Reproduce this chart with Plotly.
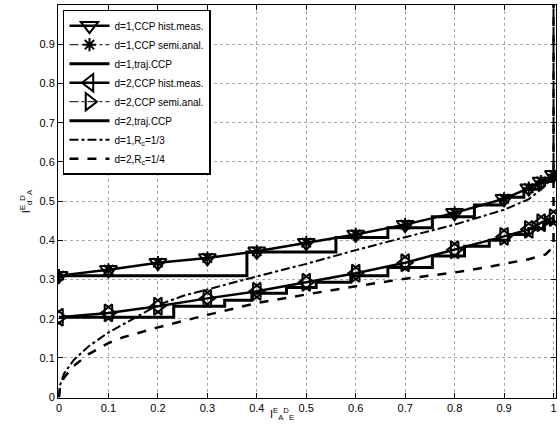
import plotly.graph_objects as go

# marker points of the measured / semi-analytic CCP curves
x_pts = [0, 0.1, 0.2, 0.3, 0.4, 0.5, 0.6, 0.7, 0.8, 0.9, 0.95, 0.975, 1.0]
d1_meas = [0.31, 0.325, 0.343, 0.355, 0.372, 0.394, 0.415, 0.44, 0.47, 0.506, 0.533, 0.55, 0.567]
d2_meas = [0.204, 0.215, 0.232, 0.252, 0.27, 0.293, 0.316, 0.343, 0.376, 0.41, 0.428, 0.445, 0.458]

# trajectory (staircase) curves
d1_traj_x = [0, 0.38, 0.56, 0.665, 0.755, 0.84, 0.9, 0.94, 0.97, 1.0]
d1_traj_y = [0.31, 0.37, 0.407, 0.432, 0.46, 0.49, 0.51, 0.53, 0.55, 0.565]
d2_traj_x = [0, 0.232, 0.335, 0.39, 0.46, 0.52, 0.59, 0.665, 0.755, 0.82, 0.87, 0.91, 0.95, 0.98, 1.0]
d2_traj_y = [0.204, 0.232, 0.247, 0.265, 0.28, 0.293, 0.31, 0.331, 0.36, 0.385, 0.40, 0.415, 0.43, 0.445, 0.455]

# fixed-rate curves
rc3_x = [0, 0.002, 0.01, 0.03, 0.06, 0.1, 0.15, 0.2, 0.25, 0.3, 0.4, 0.5, 0.6, 0.7, 0.8, 0.9, 0.95, 0.98, 0.995, 1.0, 1.0]
rc3_y = [0, 0.03, 0.06, 0.095, 0.13, 0.165, 0.2, 0.235, 0.258, 0.275, 0.308, 0.34, 0.375, 0.408, 0.44, 0.478, 0.505, 0.535, 0.555, 0.57, 1.0]
rc4_x = [0, 0.002, 0.01, 0.03, 0.06, 0.1, 0.13, 0.2, 0.3, 0.4, 0.5, 0.6, 0.7, 0.8, 0.863, 0.9, 0.95, 0.984, 1.0, 1.0]
rc4_y = [0, 0.025, 0.05, 0.08, 0.11, 0.138, 0.153, 0.178, 0.21, 0.24, 0.262, 0.283, 0.302, 0.318, 0.331, 0.34, 0.352, 0.364, 0.384, 1.0]

ticks = [i / 10 for i in range(11)]
tick_text = ['0', '0.1', '0.2', '0.3', '0.4', '0.5', '0.6', '0.7', '0.8', '0.9', '1']

fig = go.Figure()

def open_marker(symbol, size=15):
    return dict(symbol=symbol, size=size, color='black', line=dict(color='black', width=2))

fig.add_trace(go.Scatter(x=x_pts, y=d1_meas, mode='lines+markers', name='d=1,CCP hist.meas.',
                         line=dict(color='black', width=2.5), marker=open_marker('triangle-down-open')))
fig.add_trace(go.Scatter(x=x_pts, y=d1_meas, mode='lines+markers', name='d=1,CCP semi.anal.',
                         line=dict(color='black', width=1, dash='dashdot'),
                         marker=open_marker('asterisk-open', 11)))
fig.add_trace(go.Scatter(x=d1_traj_x, y=d1_traj_y, mode='lines', name='d=1,traj.CCP', line_shape='hv',
                         line=dict(color='black', width=3)))
fig.add_trace(go.Scatter(x=x_pts, y=d2_meas, mode='lines+markers', name='d=2,CCP hist.meas.',
                         line=dict(color='black', width=2.5), marker=open_marker('triangle-left-open')))
fig.add_trace(go.Scatter(x=x_pts, y=d2_meas, mode='lines+markers', name='d=2,CCP semi.anal.',
                         line=dict(color='black', width=1, dash='dashdot'), marker=open_marker('triangle-right-open')))
fig.add_trace(go.Scatter(x=d2_traj_x, y=d2_traj_y, mode='lines', name='d=2,traj.CCP', line_shape='hv',
                         line=dict(color='black', width=3)))
fig.add_trace(go.Scatter(x=rc3_x, y=rc3_y, mode='lines', name='d=1,R<sub>c</sub>=1/3',
                         line=dict(color='black', width=2, dash='dashdot')))
fig.add_trace(go.Scatter(x=rc4_x, y=rc4_y, mode='lines', name='d=2,R<sub>c</sub>=1/4',
                         line=dict(color='black', width=2.5, dash='dash')))

axis_style = dict(tickvals=ticks, ticktext=tick_text, showgrid=True, automargin=False,
                  gridcolor='#a8a8a8', griddash='dot', gridwidth=1, zeroline=False,
                  showline=True, linecolor='black', linewidth=1, mirror='ticks',
                  ticks='inside', ticklen=5, tickcolor='black',
                  tickfont=dict(family='Liberation Sans', size=11, color='black'))

fig.update_layout(
    width=560, height=431,
    margin=dict(l=58, r=4, t=5, b=33),
    paper_bgcolor='white', plot_bgcolor='white',
    xaxis=dict(axis_style, range=[-0.002, 1.005]),
    yaxis=dict(axis_style, range=[-0.002, 1.0]),
    showlegend=True,
    legend=dict(x=0.01, y=0.988, xanchor='left', yanchor='top', bgcolor='white',
                bordercolor='black', borderwidth=1.5, tracegroupgap=0,
                font=dict(family='Liberation Sans', size=10, color='black'),
                itemwidth=40),
    annotations=[
        dict(text='I<sup>E</sup><sub>A</sub><sup>D</sup><sub>E</sub>', x=0.45, y=-0.015,
             xref='paper', yref='paper', showarrow=False, yanchor='top',
             font=dict(family='Liberation Sans', size=11, color='black')),
        dict(text='I<sup>E</sup><sub>d</sub><sup>D</sup><sub>A</sub>', x=-0.085, y=0.5,
             xref='paper', yref='paper', showarrow=False, textangle=-90,
             font=dict(family='Liberation Sans', size=11, color='black')),
    ],
)

fig.write_html("out.html", config={'displayModeBar': False},
               post_script="document.body.style.margin='0';")
